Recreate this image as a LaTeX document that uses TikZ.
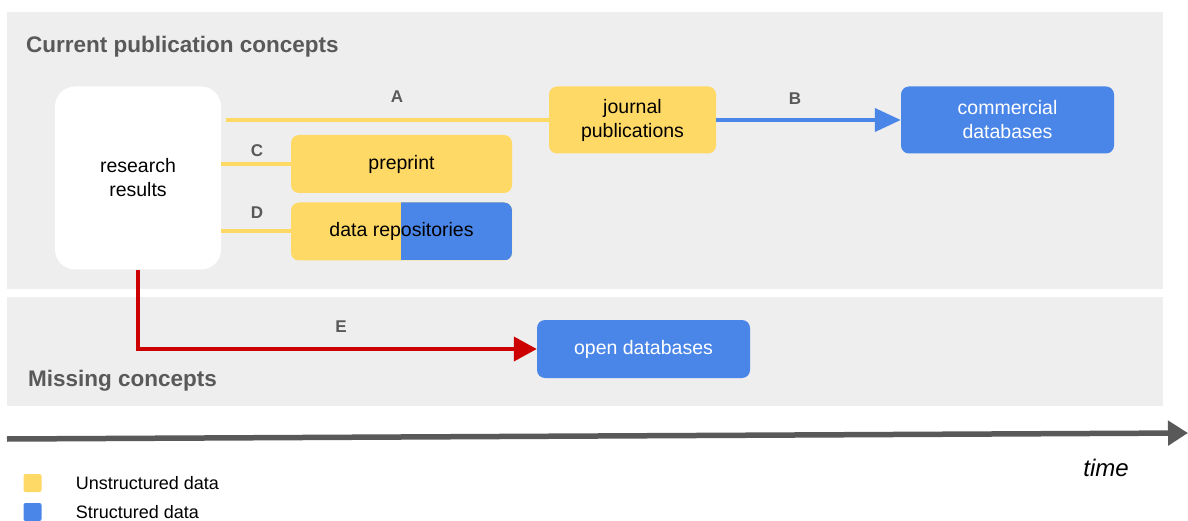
\documentclass[tikz,border=0pt]{standalone}
\usepackage{fontspec}
\setmainfont{Liberation Sans}
\usetikzlibrary{arrows.meta,positioning}
\definecolor{panelgray}{HTML}{EEEEEE}
\definecolor{unstruct}{HTML}{FFD966}
\definecolor{struct}{HTML}{4A86E8}
\definecolor{labelgray}{HTML}{595959}
\definecolor{linkred}{HTML}{CC0000}
\tikzset{
  box/.style={rounded corners=8pt,minimum height=58pt,align=center,font=\fontsize{19.5}{24}\selectfont,inner sep=0pt},
  unbox/.style={box,fill=unstruct},
  stbox/.style={box,fill=struct,text=white},
  letter/.style={font=\bfseries\fontsize{17}{20}\selectfont,text=labelgray},
  heading/.style={font=\bfseries\fontsize{22.5}{26}\selectfont,text=labelgray,anchor=west,inner sep=0pt},
  link/.style={line width=4pt},
  keybox/.style={rounded corners=2pt,minimum size=18pt,inner sep=0pt},
  keytext/.style={font=\fontsize{18}{21}\selectfont,inner sep=0pt,right=34pt of #1},
}

\begin{document}
\begin{tikzpicture}[x=1pt,y=-1pt]
\useasboundingbox (0,0) rectangle (1188,521);
% panels
\fill[panelgray] (7,12) rectangle (1163,289);
\fill[panelgray] (7,297) rectangle (1163,406);
\node[heading] (cur) at (26,47) {Current publication concepts};
\node[heading] (mis) at (28,381) {Missing concepts};

% boxes
\node[box,fill=white,rounded corners=20pt,minimum width=166pt,minimum height=183pt] (res) at (138,178) {research\\results};
\node[unbox,minimum width=167pt,minimum height=67pt] (jour) at (632.5,120) {journal\\publications};
\node[stbox,minimum width=213pt,minimum height=67pt] (comm) at (1007.5,120) {commercial\\databases};
\node[unbox,minimum width=221pt] (pre) at (401.5,164) {preprint};
\node[unbox,minimum width=221pt,path picture={\fill[struct,sharp corners] ([xshift=110pt]path picture bounding box.south west) rectangle (path picture bounding box.north east);}] (repo) at (401.5,231.5) {data repositories};
\node[stbox,minimum width=213pt] (open) at (643.5,349) {open databases};

% links
\draw[link,unstruct] ([xshift=5pt]res.east |- jour.west) -- (jour.west);
\draw[link,struct,-{Triangle[length=26pt,width=23pt]}] (jour.east) -- (comm.west);
\draw[link,unstruct] (res.east |- pre.west) -- (pre.west);
\draw[link,unstruct] (res.east |- repo.west) -- (repo.west);
\draw[link,linkred,-{Triangle[length=23pt,width=24pt]}] (res.south) |- (open.west);
\node[letter] (la) at (397,97) {A};
\node[letter] (lb) at (795,99) {B};
\node[letter] (lc) at (257,151) {C};
\node[letter] (ld) at (257,213) {D};
\node[letter] (le) at (341,327) {E};

% time axis
\coordinate (t0) at (7,439);
\coordinate (t1) at (1188,433);
\draw[line width=5.5pt,labelgray,-{Triangle[length=20pt,width=24pt]}] (t0) -- (t1);
\node[font=\itshape\fontsize{24}{28}\selectfont] (time) at (1106,468) {time};

% legend
\node[keybox,fill=unstruct] (kun) at (32.5,483) {};
\node[keytext=kun] (tun) {Unstructured data};
\node[keybox,fill=struct] (kst) at (32.5,512) {};
\node[keytext=kst] (tst) {Structured data};
\end{tikzpicture}
\end{document}
